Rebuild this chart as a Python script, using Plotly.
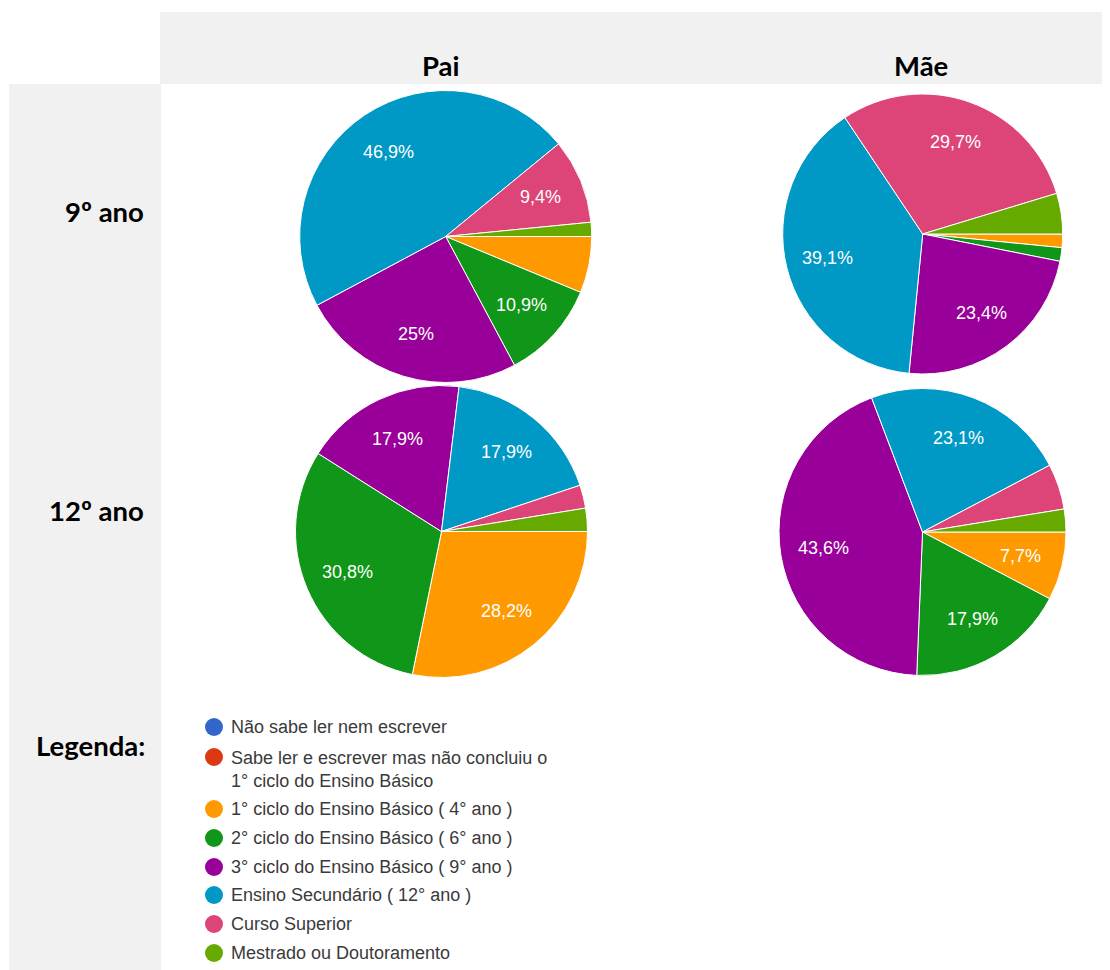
import math
import plotly.graph_objects as go

# The page body adds an 8px margin, so every pixel position below is given
# in page coordinates and shifted by that margin into figure coordinates.
OFF = 8
W, H = 1110, 970 - OFF

categories = [
    "Não sabe ler nem escrever",
    "Sabe ler e escrever mas não concluiu o<br>1° ciclo do Ensino Básico",
    "1° ciclo do Ensino Básico ( 4° ano )",
    "2° ciclo do Ensino Básico ( 6° ano )",
    "3° ciclo do Ensino Básico ( 9° ano )",
    "Ensino Secundário ( 12° ano )",
    "Curso Superior",
    "Mestrado ou Doutoramento",
]
colors = ["#3366CC", "#DC3912", "#FF9900", "#109618", "#990099", "#0099C6", "#DD4477", "#66AA00"]

# response counts per category (percentages shown are counts / total)
pai_9 = [0, 0, 4, 7, 16, 30, 6, 1]
mae_9 = [0, 0, 1, 1, 15, 25, 19, 3]
pai_12 = [0, 0, 11, 12, 7, 7, 1, 1]
mae_12 = [0, 0, 3, 7, 17, 9, 2, 1]

col_titles = ["Pai", "Mãe"]
row_titles = ["9º ano", "12º ano"]
legend_title = "Legenda:"

# pie centres / radii in page pixels
pies = [
    (pai_9, 445.7, 236.5, 146),
    (mae_9, 922.7, 234.0, 140),
    (pai_12, 441.5, 531.5, 146),
    (mae_12, 922.5, 532.0, 143.5),
]


def px_x(x):
    return (x - OFF) / W


def px_y(y):
    return 1 - (y - OFF) / H


def fmt_pct(v, total, threshold=7.0):
    p = v / total * 100
    if p < threshold:
        return ""
    s = f"{p:.1f}"
    if s.endswith(".0"):
        s = s[:-2]
    return s.replace(".", ",") + "%"


fig = go.Figure()

lbl_font = dict(family="Liberation Sans, Arial, sans-serif", size=18, color="white")

for vals, cx, cy, r in pies:
    total = sum(vals)
    idx = [i for i, v in enumerate(vals) if v > 0]
    fig.add_trace(go.Pie(
        labels=[categories[i] for i in idx],
        values=[vals[i] for i in idx],
        marker=dict(colors=[colors[i] for i in idx], line=dict(color="white", width=1)),
        textinfo="none",
        sort=False,
        direction="clockwise",
        rotation=90,
        showlegend=False,
        hoverinfo="label+percent",
        domain=dict(x=[px_x(cx - r), px_x(cx + r)], y=[px_y(cy + r), px_y(cy - r)]),
    ))
    # percentage labels at 0.7 r along each slice bisector (clockwise from 3 o'clock)
    cum = 0
    for i in idx:
        v = vals[i]
        mid = (cum + v / 2) / total * 2 * math.pi
        cum += v
        t = fmt_pct(v, total)
        if not t:
            continue
        lx = cx + 0.7 * r * math.cos(mid)
        ly = cy + 0.7 * r * math.sin(mid)
        fig.add_annotation(x=px_x(lx), y=px_y(ly), xref="paper", yref="paper", text=t,
                           showarrow=False, xanchor="center", yanchor="middle", font=lbl_font)

# legend markers drawn on a pixel-scaled hidden axis
leg_y = [727, 757, 809, 838, 867, 895, 924, 953]
fig.add_trace(go.Scatter(
    x=[214 - OFF] * len(categories), y=[v - OFF for v in leg_y], mode="markers",
    marker=dict(color=colors, size=18, line=dict(width=0)),
    showlegend=False, hoverinfo="skip", xaxis="x", yaxis="y",
))
for lab, yy in zip(categories, leg_y):
    fig.add_annotation(
        x=px_x(229), y=px_y(yy), xref="paper", yref="paper",
        text=lab, showarrow=False, xanchor="left",
        yanchor="top" if "<br>" in lab else "middle",
        yshift=11 if "<br>" in lab else 0,
        align="left",
        font=dict(family="Liberation Sans, Arial, sans-serif", size=18, color="#3a3a3a"),
    )

fig.update_xaxes(range=[0, W], visible=False, fixedrange=True)
fig.update_yaxes(range=[H, 0], visible=False, fixedrange=True)

# table backgrounds
fig.add_shape(type="rect", xref="paper", yref="paper",
              x0=px_x(160), x1=1, y0=px_y(84), y1=px_y(12),
              fillcolor="#f1f1f1", line=dict(width=0), layer="below")
fig.add_shape(type="rect", xref="paper", yref="paper",
              x0=px_x(9), x1=px_x(161), y0=0, y1=px_y(84),
              fillcolor="#f1f1f1", line=dict(width=0), layer="below")

hdr_font = dict(family="Lato, Open Sans, sans-serif", size=27.5, color="black")
for t, xx in zip(col_titles, [441, 921]):
    fig.add_annotation(x=px_x(xx), y=px_y(66), xref="paper", yref="paper", text=f"<b>{t}</b>",
                       showarrow=False, xanchor="center", yanchor="middle", font=hdr_font)
for t, yy in zip(row_titles, [211, 510]):
    fig.add_annotation(x=px_x(146), y=px_y(yy), xref="paper", yref="paper", text=f"<b>{t}</b>",
                       showarrow=False, xanchor="right", yanchor="middle", font=hdr_font)
fig.add_annotation(x=px_x(147), y=px_y(745), xref="paper", yref="paper", text=f"<b>{legend_title}</b>",
                   showarrow=False, xanchor="right", yanchor="middle", font=hdr_font)

fig.update_layout(
    width=W, height=H,
    margin=dict(l=0, r=0, t=0, b=0),
    paper_bgcolor="white", plot_bgcolor="rgba(0,0,0,0)",
)

fig.write_html("out.html")
